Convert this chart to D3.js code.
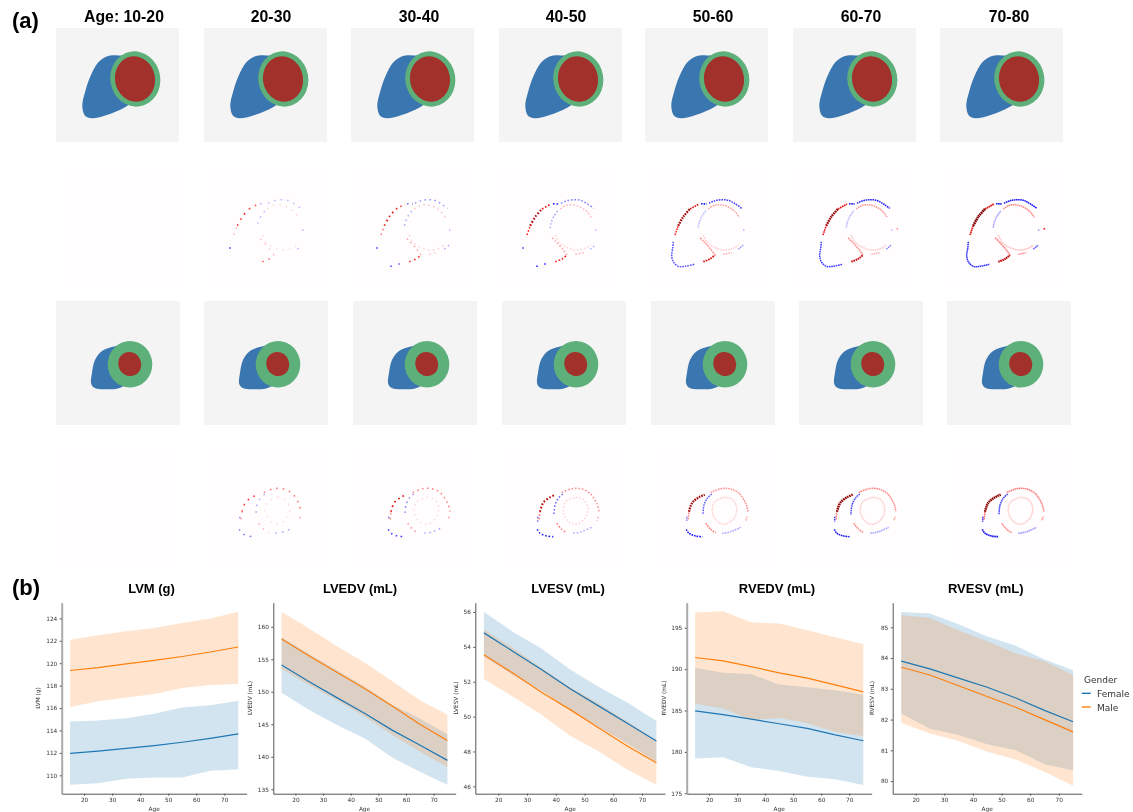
<!DOCTYPE html>
<html>
<head>
<meta charset="utf-8">
<title>Cardiac shape by age</title>
<script src="https://cdn.jsdelivr.net/npm/d3@7"></script>
<style>
  html, body { margin: 0; padding: 0; background: #fff; }
  svg { display: block; filter: blur(0.3px); }
  .bold { font-family: "Liberation Sans", Arial, sans-serif; font-weight: bold; fill: #000; }
  .small { font-family: "DejaVu Sans", sans-serif; font-size: 5.8px; fill: #333; }
  .axis text { font-family: "DejaVu Sans", sans-serif; font-size: 5.8px; fill: #333; }
  .axis path, .axis line { stroke: #555; }
  .legend { font-family: "DejaVu Sans", sans-serif; font-size: 9px; fill: #333; }
</style>
</head>
<body>
<div id="chart"></div>
<script>
/* DATA: PANEL (a) */
const ageGroups = ["Age: 10-20", "20-30", "30-40", "40-50", "50-60", "60-70", "70-80"];

// heart outlines, in pixels of the source image
const rvLarge = [[62,27.5],[52,28],[42.3,34.3],[34,49.3],[29,64.3],[26.3,77.7],[29,87.7],[35.7,90.3],[50.7,87],[69,79.3],[80,70],[82,40],[72,28]];
const epiLarge = { cx: 79.3, cy: 51, rx: 25, ry: 27.7, rot: -10 };
const endoLarge = { cx: 79, cy: 51, rx: 20, ry: 22.8, rot: -10 };
const rvSmall = [[58,45.5],[46,50],[39.3,58.3],[36,71.7],[35.3,83.3],[39.3,87.3],[51,88.3],[64.3,86.7],[76,78],[78,58],[68,45]];
const epiSmall = { cx: 74, cy: 63.3, rx: 22.3, ry: 23.3, rot: 0 };
const endoSmall = { cx: 73.7, cy: 63, rx: 11.4, ry: 12.2, rot: -25 };

// difference maps: contour pieces and their signed change for each age group
const diffLarge = [
  { pts: [[30,69],[33.3,59.7]], v: [0,.15,.3,.5,.5,.55,.6] },
  { pts: [[33.3,59.7],[38.3,50.7],[45,43]], v: [0,.5,.6,.8,.85,.9,.98] },
  { pts: [[45,43],[54,38]], v: [0,.35,.45,.6,.6,.6,.65] },
  { pts: [[56,37.7],[61.7,38]], v: [0,-.15,-.3,-.5,-.55,-.55,-.55] },
  { pts: [[64,37.3],[70,34.7],[76.7,33.7],[83.3,34.3],[90,37.7],[96.7,42.3]], v: [0,-.15,-.22,-.28,-.42,-.48,-.52] },
  { pts: [[63.3,43],[68.3,39.7],[75,38.7],[83.3,41],[90,45.7],[94.3,51.3]], v: [0,.08,.12,.15,.2,.22,.25] },
  { pts: [[60.7,45],[56.7,50.7],[54,57.3],[53.3,62.3]], v: [0,-.15,-.18,-.18,-.15,-.15,-.2] },
  { pts: [[58.3,95.7],[65,93],[70,89]], v: [0,.35,.45,.55,.65,.7,.75] },
  { pts: [[70,89],[65,82.3],[58.3,75],[55,71.7]], v: [0,.12,.18,.2,.25,.25,.28] },
  { pts: [[58.3,69],[61.7,75.7],[68.3,80.7],[78.3,84],[88.3,82.3],[93.3,79]], v: [0,.07,.1,.1,.11,.11,.13] },
  { pts: [[28.3,75.7],[27.7,82.3],[26.7,89.7],[28.3,95.7],[33.3,100.3],[40,100.3],[49.3,98.3]], v: [0,0,0,0,-.38,-.42,-.45] },
  { pts: [[26,81.3],[26,82.7]], v: [0,-.45,-.45,-.45,0,0,0] },
  { pts: [[40,99.6],[40,101]], v: [0,0,-.4,-.5,0,0,0] },
  { pts: [[48,97.3],[48,98.7]], v: [0,0,-.35,-.5,0,0,0] },
  { pts: [[93.3,83.3],[98.3,79]], v: [0,-.18,-.18,-.18,-.22,-.28,-.35] },
  { pts: [[78.3,88.3],[86.7,86.7]], v: [0,0,.12,.17,.17,.17,.22] },
  { pts: [[104.3,62],[104.3,63.6]], v: [0,0,0,0,0,.25,.55] },
  { pts: [[98.7,63.3],[98.7,64.7]], v: [0,-.18,-.18,-.18,-.18,-.18,-.22] }
];
const diffSmall = [
  { pts: [[37,71.3],[38,63.7]], v: [0,.22,.28,.32,.28,.28,.32] },
  { pts: [[38,63.7],[41.3,54.7],[48,49.3],[53.7,46.7]], v: [0,.45,.6,.75,.85,.92,.92] },
  { pts: [[60.7,46],[56.3,50.3],[53,57],[52,67]], v: [0,-.18,-.25,-.32,-.36,-.4,-.4] },
  { pts: [[35.7,68.7],[35.7,73.7]], v: [0,-.22,-.28,-.32,-.25,-.42,-.42] },
  { pts: [[35.3,81.3],[38,85.3],[44.7,88],[51.3,88.7]], v: [0,-.28,-.42,-.52,-.52,-.52,-.58] },
  { pts: [[59.7,44.7],[69.7,40.7],[79.7,41],[88,45.3],[94.7,55.3],[97,63.7]], v: [0,.3,.28,.24,.24,.26,.28] },
  { pts: [[96.3,68.7],[94.7,72.7]], v: [0,.18,.22,.18,.18,.18,.22] },
  { pts: [[73.7,49.3],[81.3,51.3],[85.7,60.3],[83,70.3],[73.7,76.3],[65.7,72.7],[61.3,63.7],[63.7,53.7],[73.7,49.3]], v: [0,.07,.08,.09,.1,.11,.11] },
  { pts: [[54.7,75.3],[59.7,81.3],[64.7,84.7]], v: [0,.18,.22,.28,.3,.25,.25] },
  { pts: [[71.3,85.3],[79.7,83.7],[89.7,79.3]], v: [0,-.18,-.18,-.18,-.2,-.2,-.22] }
];

/* DATA: PANEL (b) */
const ages = [15, 25, 35, 45, 55, 65, 75];
const genders = ["Female", "Male"];
const measures = ["LVM (g)", "LVEDV (mL)", "LVESV (mL)", "RVEDV (mL)", "RVESV (mL)"];

const lvmFemale = [111.95, 112.15, 112.4, 112.65, 112.95, 113.3, 113.7];
const lvmFemaleLow = [109.15, 109.3, 109.7, 109.8, 109.8, 110.4, 110.55];
const lvmFemaleHigh = [114.8, 114.9, 115.1, 115.5, 116.05, 116.25, 116.65];
const lvmMale = [119.35, 119.6, 119.95, 120.25, 120.6, 121, 121.45];
const lvmMaleLow = [116.1, 116.6, 116.95, 117.25, 117.8, 118.05, 118.15];
const lvmMaleHigh = [122.1, 122.5, 122.85, 123.15, 123.6, 124, 124.6];

const lvedvFemale = [154.1, 151.55, 149.1, 146.7, 144.1, 141.8, 139.45];
const lvedvFemaleLow = [149.85, 147.2, 144.9, 142.85, 139.9, 137.7, 135.7];
const lvedvFemaleHigh = [158.4, 155.8, 153.3, 150.8, 148, 145.9, 143.45];
const lvedvMale = [158.1, 155.5, 153, 150.5, 147.8, 145, 142.5];
const lvedvMaleLow = [153.5, 151, 148.7, 146.2, 143.35, 140.8, 138.4];
const lvedvMaleHigh = [162.3, 159.75, 157, 154.5, 151.65, 148.7, 146.5];

const lvesvFemale = [54.8, 53.75, 52.7, 51.6, 50.6, 49.6, 48.6];
const lvesvFemaleLow = [53.45, 52.4, 51.5, 50.4, 49.4, 48.45, 47.4];
const lvesvFemaleHigh = [56, 54.87, 53.9, 52.7, 51.7, 50.8, 49.75];
const lvesvMale = [53.55, 52.5, 51.4, 50.4, 49.35, 48.3, 47.35];
const lvesvMaleLow = [52.15, 51.15, 50.1, 48.9, 48, 46.95, 46.1];
const lvesvMaleHigh = [55, 53.95, 52.8, 51.7, 50.75, 49.7, 48.65];

const rvedvFemale = [184.95, 184.5, 183.95, 183.4, 182.85, 182.05, 181.35];
const rvedvFemaleLow = [179.2, 179.35, 178.15, 177.7, 177, 176.7, 176];
const rvedvFemaleHigh = [190.15, 189.55, 189.4, 188.15, 187.8, 187.45, 186.9];
const rvedvMale = [191.4, 191, 190.3, 189.55, 188.9, 188.1, 187.25];
const rvedvMaleLow = [185.8, 185.25, 183.85, 184.1, 183.45, 182.4, 181.9];
const rvedvMaleHigh = [196.85, 197, 195.65, 195.5, 194.7, 193.85, 193];

const rvesvFemale = [83.9, 83.65, 83.35, 83.05, 82.7, 82.3, 81.93];
const rvesvFemaleLow = [82.2, 81.7, 81.5, 81.2, 81, 80.55, 80.35];
const rvesvFemaleHigh = [85.5, 85.45, 85.1, 84.7, 84.4, 83.95, 83.6];
const rvesvMale = [83.7, 83.45, 83.1, 82.75, 82.4, 82, 81.6];
const rvesvMaleLow = [81.9, 81.55, 81.3, 80.95, 80.7, 80.3, 79.85];
const rvesvMaleHigh = [85.4, 85.3, 84.9, 84.55, 84.15, 83.9, 83.45];

const xTicks = [20, 30, 40, 50, 60, 70];
const lvmTicks = [110, 112, 114, 116, 118, 120, 122, 124];
const lvedvTicks = [135, 140, 145, 150, 155, 160];
const lvesvTicks = [46, 48, 50, 52, 54, 56];
const rvedvTicks = [175, 180, 185, 190, 195];
const rvesvTicks = [80, 81, 82, 83, 84, 85];

/* CONSTANTS AND GLOBALS */
const width = 1133, height = 812;
const colors = { Female: "#1f77b4", Male: "#ff7f0e" };
const heartColors = { bg: "#f4f4f4", rv: "#3a76b0", epi: "#5eb07a", endo: "#a2302b", diffBg: "#fffdfe" };

// layout of panel (a): one row per line of images
const rows = [
  { y: 28, w: 123, h: 114, xs: [56, 204, 351, 499, 645, 793, 940], kind: "heart", rv: rvLarge, epi: epiLarge, endo: endoLarge },
  { y: 166, w: 123, h: 122, xs: [60, 204, 351, 497, 645, 793, 940], kind: "diff", arcs: diffLarge },
  { y: 301, w: 124, h: 124, xs: [56, 204, 353, 502, 651, 799, 947], kind: "heart", rv: rvSmall, epi: epiSmall, endo: endoSmall },
  { y: 448, w: 124, h: 122, xs: [56, 204, 353, 502, 651, 799, 947], kind: "diff", arcs: diffSmall }
];
const colTitleX = [124, 271, 419, 566, 713, 861, 1009];
const dashByAge = ["", "1.6 5", "1.6 3.4", "1.6 1.9", "1.6 1", "1.6 .7", "1.6 .5"];

// layout of panel (b)
const panelTop = 602.7, panelBottom = 793.7;
const ageDomain = [12, 78];
const panels = [
  { left: 61.7, right: 246.7, titleX: 151.5, labelX: 40, spine: 2, domain: [108.36, 125.4], ticks: lvmTicks,
    series: [[lvmFemale, lvmFemaleLow, lvmFemaleHigh], [lvmMale, lvmMaleLow, lvmMaleHigh]] },
  { left: 273.3, right: 455.7, titleX: 360, labelX: 252, spine: 1, domain: [134.32, 163.7], ticks: lvedvTicks,
    series: [[lvedvFemale, lvedvFemaleLow, lvedvFemaleHigh], [lvedvMale, lvedvMaleLow, lvedvMaleHigh]] },
  { left: 475.3, right: 665, titleX: 568, labelX: 457.7, spine: 1, domain: [45.58, 56.53], ticks: lvesvTicks,
    series: [[lvesvFemale, lvesvFemaleLow, lvesvFemaleHigh], [lvesvMale, lvesvMaleLow, lvesvMaleHigh]] },
  { left: 686.7, right: 871.7, titleX: 777, labelX: 666, spine: 2, domain: [174.95, 198.02], ticks: rvedvTicks,
    series: [[rvedvFemale, rvedvFemaleLow, rvedvFemaleHigh], [rvedvMale, rvedvMaleLow, rvedvMaleHigh]] },
  { left: 892.7, right: 1081.7, titleX: 985.7, labelX: 874, spine: 1, domain: [79.59, 85.8], ticks: rvesvTicks,
    series: [[rvesvFemale, rvesvFemaleLow, rvesvFemaleHigh], [rvesvMale, rvesvMaleLow, rvesvMaleHigh]] }
];

const svg = d3.select("#chart").append("svg")
  .attr("width", width)
  .attr("height", height);

// signed change to colour, blue through white to dark red
const diffColor = d3.scaleLinear()
  .domain([-1, -0.5, 0, 0.5, 1])
  .range(["#00008c", "#1818ff", "#ffffff", "#ff1818", "#7a0000"]);

// the strongest changes are a bit wider on the map
const diffWidth = d3.scaleLinear().domain([0.5, 1]).range([1.5, 2.6]).clamp(true);

/* PANEL (a) */
svg.append("text").attr("class", "bold")
  .attr("x", 12).attr("y", 28)
  .style("font-size", "22px")
  .text("(a)");

svg.selectAll(".col-title")
  .data(ageGroups)
  .join("text")
  .attr("class", "bold col-title")
  .attr("x", (d, i) => colTitleX[i])
  .attr("y", 21.7)
  .attr("text-anchor", "middle")
  .style("font-size", "15.8px")
  .text(d => d);

rows.forEach(row => {
  row.xs.forEach((x0, col) => {
    const g = svg.append("g");
    const sx = d3.scaleLinear().domain([0, row.w]).range([x0, x0 + row.w]);
    const sy = d3.scaleLinear().domain([0, row.h]).range([row.y, row.y + row.h]);
    const outline = d3.line().x(d => sx(d[0])).y(d => sy(d[1]));

    g.append("rect")
      .attr("x", sx(0)).attr("y", sy(0))
      .attr("width", sx(row.w) - sx(0))
      .attr("height", sy(row.h) - sy(0))
      .attr("fill", row.kind === "heart" ? heartColors.bg : heartColors.diffBg);

    if (row.kind === "heart") {
      g.append("path")
        .attr("d", outline.curve(d3.curveCatmullRomClosed)(row.rv))
        .attr("fill", heartColors.rv);
      // both walls of the left ventricle are close to tilted ellipses
      [[row.epi, heartColors.epi], [row.endo, heartColors.endo]].forEach(([e, fill]) => {
        g.append("ellipse")
          .attr("cx", sx(e.cx)).attr("cy", sy(e.cy))
          .attr("rx", e.rx).attr("ry", e.ry)
          .attr("transform", `rotate(${e.rot} ${sx(e.cx)} ${sy(e.cy)})`)
          .attr("fill", fill);
      });
    } else {
      const open = outline.curve(d3.curveCatmullRom);
      g.selectAll("path")
        .data(row.arcs.filter(a => a.v[col] !== 0))
        .join("path")
        .attr("d", d => open(d.pts))
        .attr("fill", "none")
        .attr("stroke", d => diffColor(d.v[col]))
        .attr("stroke-width", d => diffWidth(Math.abs(d.v[col])))
        .attr("stroke-dasharray", dashByAge[col]);
    }
  });
});

/* PANEL (b) */
svg.append("text").attr("class", "bold")
  .attr("x", 12).attr("y", 595)
  .style("font-size", "22px")
  .text("(b)");

panels.forEach((p, i) => {
  const xScale = d3.scaleLinear().domain(ageDomain).range([p.left, p.right]);
  const yScale = d3.scaleLinear().domain(p.domain).range([panelBottom, panelTop]);
  const g = svg.append("g");

  svg.append("text").attr("class", "bold")
    .attr("x", p.titleX).attr("y", 593)
    .attr("text-anchor", "middle")
    .style("font-size", "13px")
    .text(measures[i]);

  // bands first, then the mean lines on top
  genders.forEach((gender, s) => {
    const [mean, low, high] = p.series[s];
    const band = d3.area()
      .x((d, k) => xScale(ages[k]))
      .y0((d, k) => yScale(low[k]))
      .y1((d, k) => yScale(high[k]));
    g.append("path")
      .attr("d", band(mean))
      .attr("fill", colors[gender])
      .attr("fill-opacity", 0.2);
  });
  genders.forEach((gender, s) => {
    const mean = p.series[s][0];
    const line = d3.line()
      .x((d, k) => xScale(ages[k]))
      .y(d => yScale(d));
    g.append("path")
      .attr("d", line(mean))
      .attr("fill", "none")
      .attr("stroke", colors[gender])
      .attr("stroke-width", 1.2);
  });

  const xAxis = d3.axisBottom(xScale).tickValues(xTicks).tickSize(2).tickSizeOuter(0).tickPadding(2.5).tickFormat(d3.format("d"));
  const yAxis = d3.axisLeft(yScale).tickValues(p.ticks).tickSize(2).tickSizeOuter(0).tickPadding(2.4).tickFormat(d3.format("d"));

  g.append("g")
    .attr("class", "axis")
    .attr("transform", `translate(0, ${panelBottom})`)
    .call(xAxis);
  const yG = g.append("g")
    .attr("class", "axis")
    .attr("transform", `translate(${p.left}, 0)`)
    .call(yAxis);
  yG.select(".domain")
    .attr("stroke-width", p.spine)
    .style("stroke", p.spine > 1 ? "#aaa" : "#555");

  g.append("text").attr("class", "small")
    .attr("x", (p.left + p.right) / 2)
    .attr("y", 811)
    .attr("text-anchor", "middle")
    .text("Age");

  g.append("text").attr("class", "small")
    .attr("transform", `translate(${p.labelX}, 698) rotate(-90)`)
    .attr("text-anchor", "middle")
    .text(measures[i]);
});

/* LEGEND */
const legend = svg.append("g");
legend.append("text").attr("class", "legend")
  .attr("x", 1084).attr("y", 683)
  .text("Gender");
genders.forEach((gender, i) => {
  const y = 693.3 + i * 13.7;
  legend.append("line")
    .attr("x1", 1081.7).attr("x2", 1090.7)
    .attr("y1", y).attr("y2", y)
    .attr("stroke", colors[gender])
    .attr("stroke-width", 1.4);
  legend.append("text").attr("class", "legend")
    .attr("x", 1097).attr("y", y + 3.5)
    .text(gender);
});
</script>
</body>
</html>
